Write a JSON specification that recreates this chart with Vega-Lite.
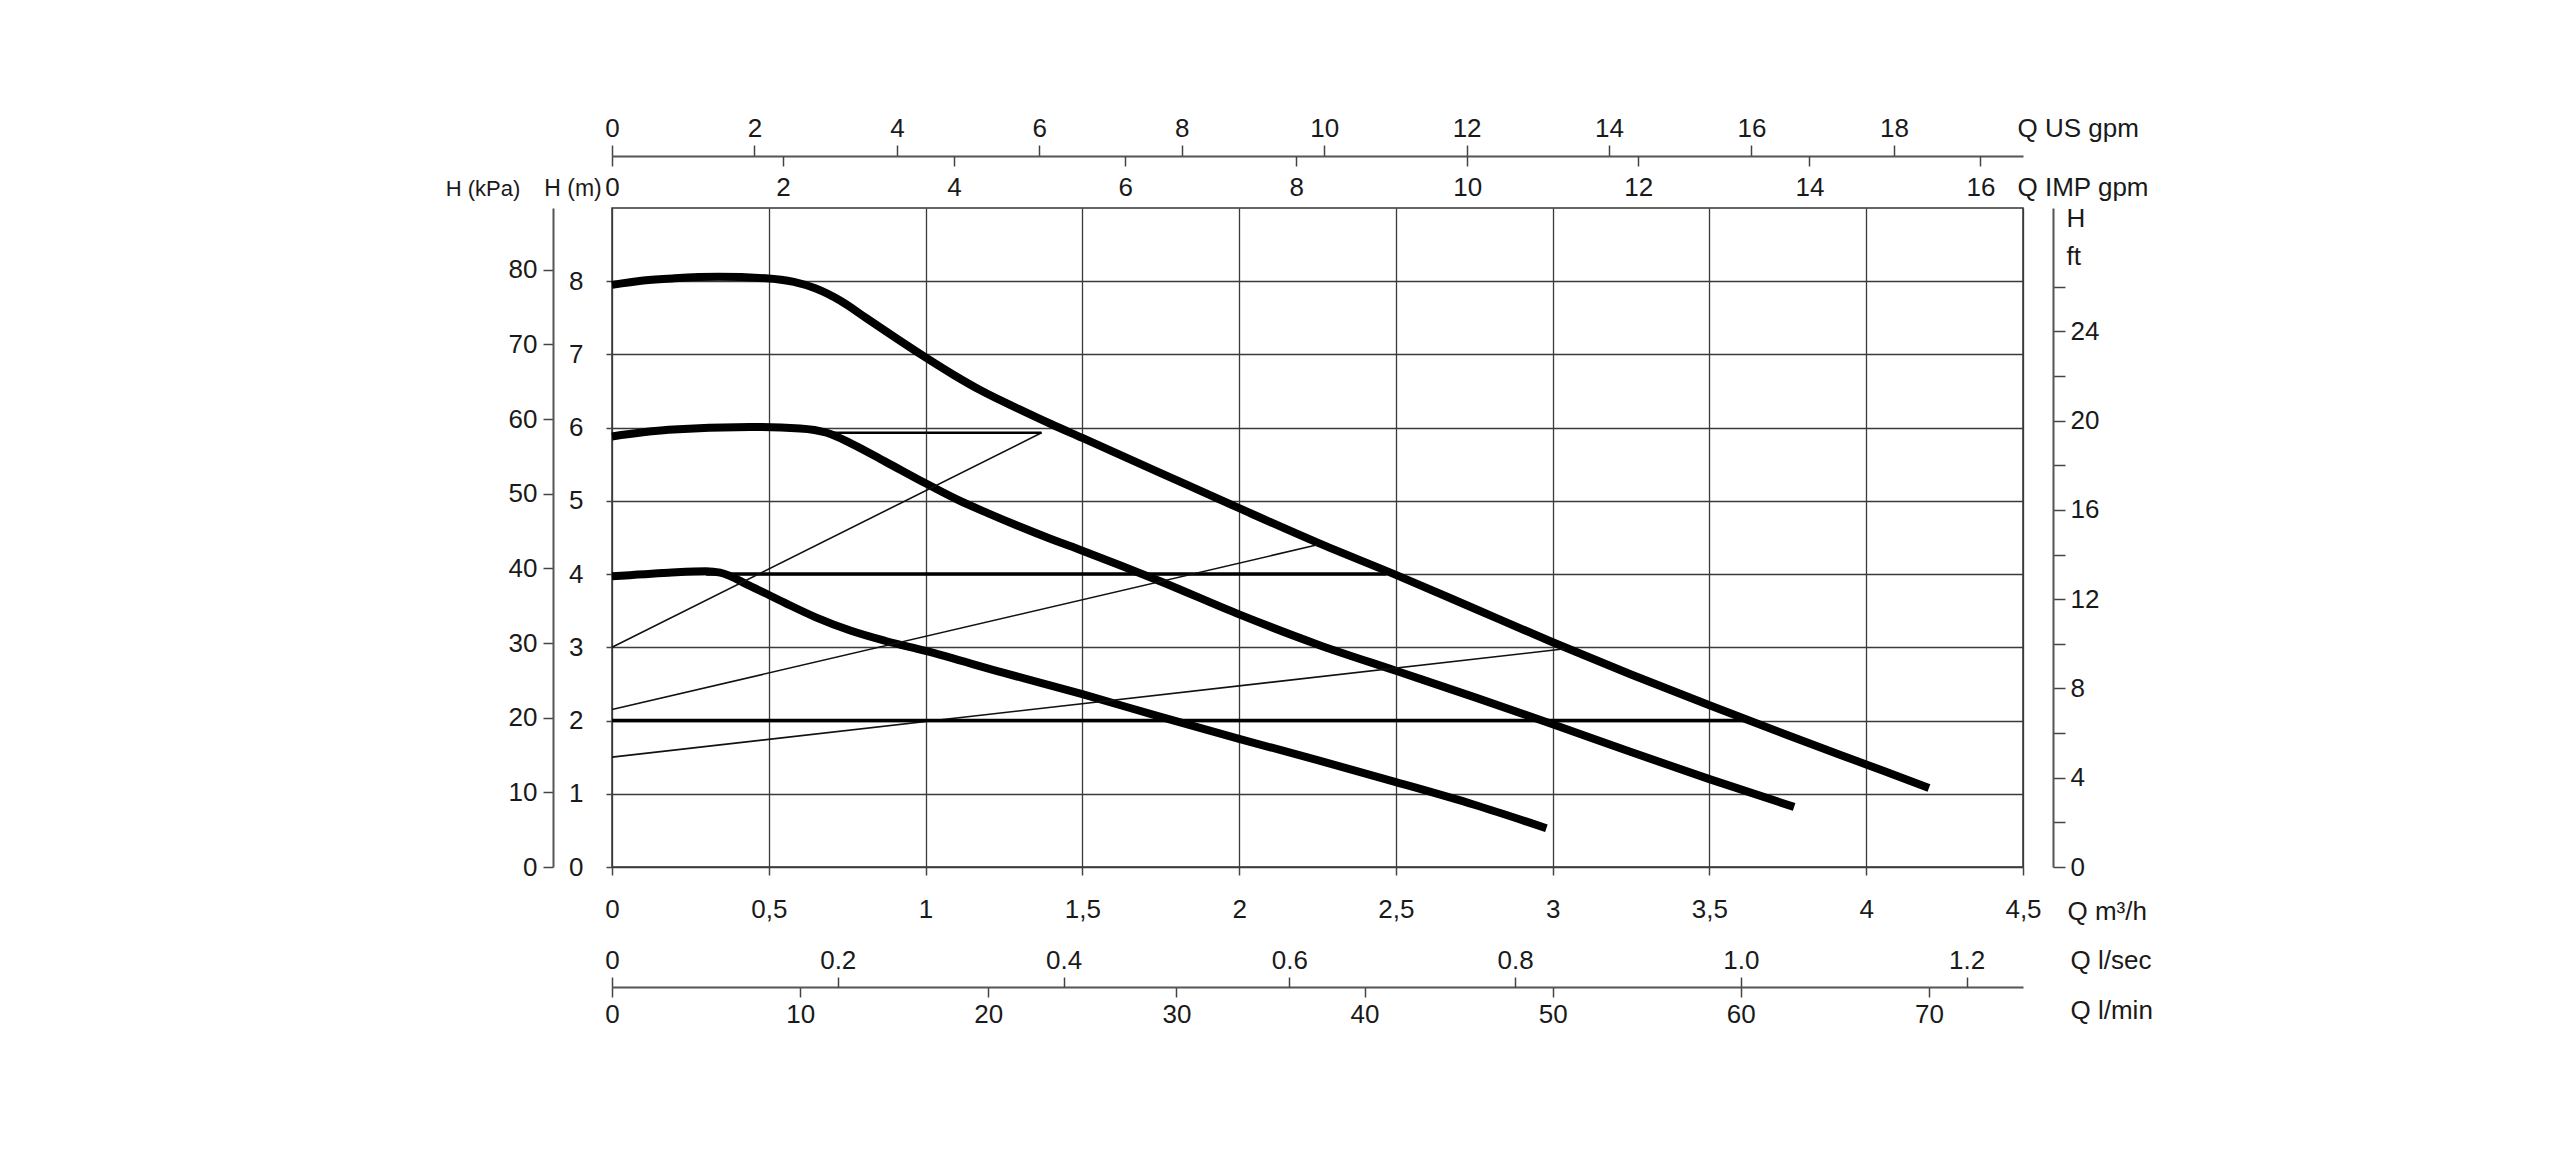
{
  "$schema": "https://vega.github.io/schema/vega-lite/v6.json",
  "width": 1411,
  "height": 659,
  "autosize": {"type": "none"},
  "padding": {"left": 612, "top": 208, "right": 537, "bottom": 301},
  "background": "white",
  "datasets": {
    "pump": [
      {"curve": "max", "q": 0, "h": 7.95},
      {"curve": "max", "q": 0.1, "h": 8.01},
      {"curve": "max", "q": 0.2, "h": 8.04},
      {"curve": "max", "q": 0.34, "h": 8.06},
      {"curve": "max", "q": 0.49, "h": 8.04},
      {"curve": "max", "q": 0.58, "h": 7.99},
      {"curve": "max", "q": 0.65, "h": 7.9},
      {"curve": "max", "q": 0.73, "h": 7.73},
      {"curve": "max", "q": 0.81, "h": 7.5},
      {"curve": "max", "q": 0.9, "h": 7.24},
      {"curve": "max", "q": 1.0, "h": 6.96},
      {"curve": "max", "q": 1.09, "h": 6.72},
      {"curve": "max", "q": 1.18, "h": 6.5},
      {"curve": "max", "q": 1.3, "h": 6.25},
      {"curve": "max", "q": 1.4, "h": 6.05},
      {"curve": "max", "q": 1.5, "h": 5.86},
      {"curve": "max", "q": 1.75, "h": 5.38},
      {"curve": "max", "q": 2.0, "h": 4.9},
      {"curve": "max", "q": 2.25, "h": 4.43},
      {"curve": "max", "q": 2.5, "h": 3.99},
      {"curve": "max", "q": 2.75, "h": 3.53},
      {"curve": "max", "q": 3.0, "h": 3.07},
      {"curve": "max", "q": 3.25, "h": 2.63},
      {"curve": "max", "q": 3.5, "h": 2.21},
      {"curve": "max", "q": 3.75, "h": 1.8},
      {"curve": "max", "q": 4.0, "h": 1.4},
      {"curve": "max", "q": 4.2, "h": 1.08},
      {"curve": "mid", "q": 0, "h": 5.88},
      {"curve": "mid", "q": 0.18, "h": 5.97},
      {"curve": "mid", "q": 0.44, "h": 6.01},
      {"curve": "mid", "q": 0.6, "h": 5.99},
      {"curve": "mid", "q": 0.685, "h": 5.93},
      {"curve": "mid", "q": 0.76, "h": 5.79},
      {"curve": "mid", "q": 0.87, "h": 5.54},
      {"curve": "mid", "q": 1.0, "h": 5.24},
      {"curve": "mid", "q": 1.1, "h": 5.02},
      {"curve": "mid", "q": 1.2, "h": 4.83},
      {"curve": "mid", "q": 1.3, "h": 4.65},
      {"curve": "mid", "q": 1.4, "h": 4.48},
      {"curve": "mid", "q": 1.5, "h": 4.32},
      {"curve": "mid", "q": 1.75, "h": 3.9},
      {"curve": "mid", "q": 2.0, "h": 3.45},
      {"curve": "mid", "q": 2.25, "h": 3.04},
      {"curve": "mid", "q": 2.5, "h": 2.68},
      {"curve": "mid", "q": 2.75, "h": 2.32},
      {"curve": "mid", "q": 3.0, "h": 1.95},
      {"curve": "mid", "q": 3.25, "h": 1.57},
      {"curve": "mid", "q": 3.5, "h": 1.2},
      {"curve": "mid", "q": 3.77, "h": 0.82},
      {"curve": "low", "q": 0, "h": 3.97},
      {"curve": "low", "q": 0.18, "h": 4.02},
      {"curve": "low", "q": 0.3, "h": 4.04},
      {"curve": "low", "q": 0.345, "h": 4.02},
      {"curve": "low", "q": 0.44, "h": 3.84},
      {"curve": "low", "q": 0.55, "h": 3.61},
      {"curve": "low", "q": 0.65, "h": 3.41},
      {"curve": "low", "q": 0.76, "h": 3.23},
      {"curve": "low", "q": 0.87, "h": 3.09},
      {"curve": "low", "q": 1.0, "h": 2.95},
      {"curve": "low", "q": 1.25, "h": 2.65},
      {"curve": "low", "q": 1.5, "h": 2.36},
      {"curve": "low", "q": 1.75, "h": 2.05},
      {"curve": "low", "q": 2.0, "h": 1.75},
      {"curve": "low", "q": 2.25, "h": 1.46},
      {"curve": "low", "q": 2.5, "h": 1.16},
      {"curve": "low", "q": 2.75, "h": 0.85},
      {"curve": "low", "q": 2.98, "h": 0.53}
    ],
    "level4": [
      {"q": 0.3, "h": 4.0},
      {"q": 2.47, "h": 4.0}
    ],
    "level2": [
      {"q": 0, "h": 2.0},
      {"q": 3.62, "h": 2.0}
    ],
    "level6": [
      {"q": 0.68, "h": 5.93},
      {"q": 1.37, "h": 5.93}
    ],
    "system": [
      {"line": "a", "q": 0, "h": 3.0},
      {"line": "a", "q": 1.37, "h": 5.93},
      {"line": "b", "q": 0, "h": 2.15},
      {"line": "b", "q": 2.25, "h": 4.4},
      {"line": "c", "q": 0, "h": 1.5},
      {"line": "c", "q": 3.04, "h": 2.98}
    ]
  },
  "resolve": {"axis": {"x": "independent", "y": "independent"}},
  "layer": [
    {
      "data": {"name": "pump"},
      "mark": {"type": "line", "color": "black", "strokeWidth": 8, "interpolate": "monotone", "strokeCap": "butt"},
      "encoding": {
        "x": {"field": "q", "type": "quantitative",
          "scale": {"domain": [0, 4.5], "nice": false, "zero": false},
          "axis": {"orient": "bottom", "values": [0, 0.5, 1, 1.5, 2, 2.5, 3, 3.5, 4, 4.5],
            "labelExpr": "replace(format(datum.value, '~g'), '.', ',')",
            "grid": true, "gridWidth": 1.3, "domain": false, "tickSize": 8, "labelPadding": 21, "labelBaseline": "top",
            "title": "Q m³/h", "titleX": 1455, "titleY": 52, "titleAlign": "left", "titleBaseline": "alphabetic"}},
        "y": {"field": "h", "type": "quantitative",
          "scale": {"domain": [0, 9], "nice": false, "zero": false},
          "axis": {"orient": "left", "values": [0, 1, 2, 3, 4, 5, 6, 7, 8], "format": "d",
            "grid": true, "gridWidth": 1.3, "domain": false, "tickSize": 6, "labelPadding": 23,
            "title": "H (m)", "titleAngle": 0, "titleX": -39.5, "titleY": -13, "titleAlign": "center", "titleBaseline": "alphabetic", "titleFontSize": 23}},
        "detail": {"field": "curve", "type": "nominal"}
      }
    },
    {
      "data": {"name": "level4"},
      "mark": {"type": "line", "color": "black", "strokeWidth": 3.5},
      "encoding": {
        "x": {"field": "q", "type": "quantitative",
          "scale": {"domain": [0, 4.5], "nice": false, "zero": false},
          "axis": {"orient": "bottom", "offset": 120, "values": [0, 0.6, 1.2, 1.8, 2.4, 3.0, 3.6, 4.2],
            "labelExpr": "format(datum.value * 50 / 3, '.0f')",
            "grid": false, "domain": true, "domainWidth": 2, "tickSize": 10, "labelPadding": 4, "labelBaseline": "top",
            "title": "Q l/min", "titleX": 1458, "titleY": 31, "titleAlign": "left", "titleBaseline": "alphabetic"}},
        "y": {"field": "h", "type": "quantitative",
          "scale": {"domain": [0, 9], "nice": false, "zero": false},
          "axis": {"orient": "left", "offset": 59, "values": [0, 1.0197, 2.0394, 3.0591, 4.0789, 5.0986, 6.1183, 7.138, 8.1577],
            "labelExpr": "format(datum.value * 9.80665, '.0f')",
            "grid": false, "domain": true, "domainWidth": 2, "tickSize": 10, "labelPadding": 6,
            "title": "H (kPa)", "titleAngle": 0, "titleX": -70.5, "titleY": -13, "titleAlign": "center", "titleBaseline": "alphabetic", "titleFontSize": 22}}
      }
    },
    {
      "data": {"name": "system"},
      "mark": {"type": "line", "color": "#111", "strokeWidth": 1.6},
      "encoding": {
        "x": {"field": "q", "type": "quantitative",
          "scale": {"domain": [0, 4.5], "nice": false, "zero": false},
          "axis": {"orient": "bottom", "offset": 120, "values": [0, 0.72, 1.44, 2.16, 2.88, 3.6, 4.32],
            "labelExpr": "datum.value == 0 ? '0' : format(datum.value / 3.6, '.1f')",
            "grid": false, "domain": false, "tickSize": -10, "labelPadding": -9, "labelBaseline": "alphabetic",
            "title": "Q l/sec", "titleX": 1458, "titleY": -19, "titleAlign": "left", "titleBaseline": "alphabetic"}},
        "y": {"field": "h", "type": "quantitative",
          "scale": {"domain": [0, 9], "nice": false, "zero": false},
          "axis": {"orient": "right", "offset": 30,
            "values": [0, 0.6096, 1.2192, 1.8288, 2.4384, 3.048, 3.6576, 4.2672, 4.8768, 5.4864, 6.096, 6.7056, 7.3152, 7.9248],
            "labelExpr": "round(datum.value * 3.28084) % 4 == 0 ? format(datum.value * 3.28084, '.0f') : ''",
            "grid": false, "domain": true, "domainWidth": 2, "tickSize": 12, "labelPadding": 5,
            "title": ["H", "ft"], "titleAngle": 0, "titleX": 13, "titleY": -3, "titleAlign": "left", "titleBaseline": "top", "titleLineHeight": 38.5}},
        "detail": {"field": "line", "type": "nominal"}
      }
    },
    {
      "data": {"name": "level6"},
      "mark": {"type": "line", "color": "black", "strokeWidth": 2.5},
      "encoding": {
        "x": {"field": "q", "type": "quantitative",
          "scale": {"domain": [0, 4.5], "nice": false, "zero": false},
          "axis": {"orient": "top", "offset": 52, "values": [0, 0.45425, 0.9085, 1.36275, 1.817, 2.27125, 2.7255, 3.17975, 3.634, 4.08825],
            "labelExpr": "format(datum.value * 4.40287, '.0f')",
            "grid": false, "domain": true, "domainWidth": 2, "tickSize": 11, "labelPadding": 9, "labelBaseline": "alphabetic",
            "title": "Q US gpm", "titleX": 1405, "titleY": -20, "titleAlign": "left", "titleBaseline": "alphabetic"}},
        "y": {"field": "h", "type": "quantitative",
          "scale": {"domain": [0, 9], "nice": false, "zero": false},
          "axis": null}
      }
    },
    {
      "data": {"name": "level2"},
      "mark": {"type": "line", "color": "black", "strokeWidth": 3.5},
      "encoding": {
        "x": {"field": "q", "type": "quantitative",
          "scale": {"domain": [0, 4.5], "nice": false, "zero": false},
          "axis": {"orient": "top", "offset": 52, "values": [0, 0.54553, 1.09106, 1.63659, 2.18212, 2.72766, 3.27319, 3.81872, 4.36425],
            "labelExpr": "format(datum.value * 3.66615, '.0f')",
            "grid": false, "domain": false, "tickSize": -10, "labelPadding": -29, "labelBaseline": "alphabetic",
            "title": "Q IMP gpm", "titleX": 1405, "titleY": 39, "titleAlign": "left", "titleBaseline": "alphabetic"}},
        "y": {"field": "h", "type": "quantitative",
          "scale": {"domain": [0, 9], "nice": false, "zero": false},
          "axis": null}
      }
    }
  ],
  "config": {
    "view": {"stroke": "#333", "strokeWidth": 1.5},
    "axis": {
      "labelFont": "Liberation Sans", "labelFontSize": 26, "labelColor": "#1a1a1a",
      "titleFont": "Liberation Sans", "titleFontSize": 26, "titleColor": "#1a1a1a", "titleFontWeight": "normal",
      "tickColor": "#444", "tickWidth": 1.5, "domainColor": "#555", "gridColor": "#3a3a3a",
      "labelOverlap": false, "labelFlush": false, "labelBound": false
    }
  }
}
